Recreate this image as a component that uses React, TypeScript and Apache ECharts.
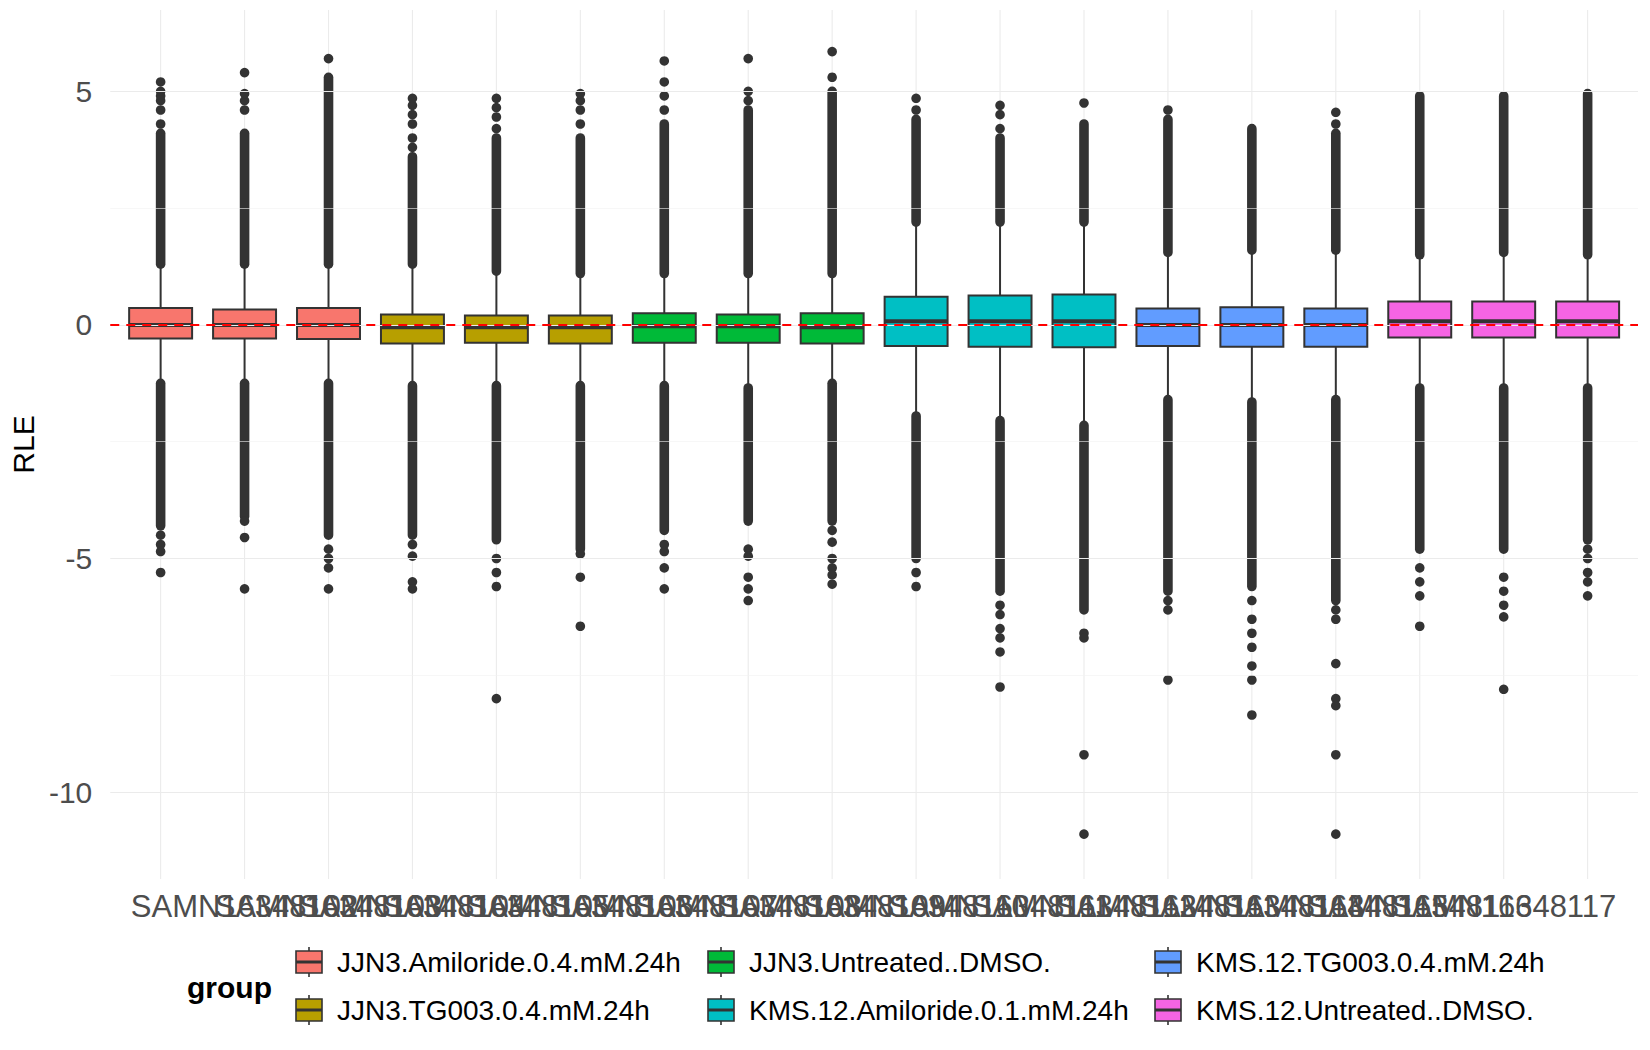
import { useRef, useEffect } from "react"
import * as echarts from "echarts"

const samples = [
  "SAMN16348101", "SAMN16348102", "SAMN16348103", "SAMN16348104", "SAMN16348105", "SAMN16348106",
  "SAMN16348107", "SAMN16348108", "SAMN16348109", "SAMN16348110", "SAMN16348111", "SAMN16348112",
  "SAMN16348113", "SAMN16348114", "SAMN16348115", "SAMN16348116", "SAMN16348117", "SAMN16348118",
]
const groupOf = [0, 0, 0, 1, 1, 1, 2, 2, 2, 3, 3, 3, 4, 4, 4, 5, 5, 5]
const groups = [
  "JJN3.Amiloride.0.4.mM.24h", "JJN3.TG003.0.4.mM.24h", "JJN3.Untreated..DMSO.",
  "KMS.12.Amiloride.0.1.mM.24h", "KMS.12.TG003.0.4.mM.24h", "KMS.12.Untreated..DMSO.",
]
const groupColors = ["#F8766D", "#B79F00", "#00BA38", "#00BFC4", "#619CFF", "#F564E3"]

// [lower whisker, Q1, median, Q3, upper whisker]
const boxStats = [
  [-1.25, -0.29, 0.0, 0.36, 1.3], [-1.25, -0.29, 0.0, 0.33, 1.3], [-1.25, -0.3, 0.0, 0.36, 1.3],
  [-1.3, -0.4, -0.05, 0.22, 1.3], [-1.3, -0.38, -0.05, 0.2, 1.15], [-1.3, -0.4, -0.05, 0.2, 1.1],
  [-1.3, -0.38, -0.03, 0.25, 1.1], [-1.35, -0.38, -0.03, 0.22, 1.1], [-1.25, -0.4, -0.05, 0.25, 1.1],
  [-1.95, -0.45, 0.08, 0.6, 2.2], [-2.05, -0.47, 0.08, 0.63, 2.2], [-2.15, -0.48, 0.08, 0.65, 2.2],
  [-1.6, -0.45, 0.0, 0.35, 1.55], [-1.65, -0.47, 0.0, 0.38, 1.6], [-1.6, -0.47, 0.0, 0.35, 1.6],
  [-1.35, -0.27, 0.08, 0.5, 1.5], [-1.35, -0.27, 0.08, 0.5, 1.55], [-1.35, -0.27, 0.08, 0.5, 1.5],
]
// densely packed outliers, drawn as a continuous run: [from, to]
const denseUpper = [
  [1.3, 4.1], [1.3, 4.1], [1.3, 5.3], [1.3, 3.6], [1.15, 4.0], [1.1, 4.0],
  [1.1, 4.3], [1.1, 4.6], [1.1, 5.0], [2.2, 4.4], [2.2, 4.0], [2.2, 4.3],
  [1.55, 4.4], [1.6, 4.2], [1.6, 4.1], [1.5, 4.9], [1.55, 4.9], [1.5, 4.95],
]
const denseLower = [
  [-1.25, -4.3], [-1.25, -4.1], [-1.25, -4.5], [-1.3, -4.5], [-1.3, -4.6], [-1.3, -4.8],
  [-1.3, -4.4], [-1.35, -4.2], [-1.25, -4.2], [-1.95, -5.0], [-2.05, -5.7], [-2.15, -6.1],
  [-1.6, -5.7], [-1.65, -5.6], [-1.6, -5.9], [-1.35, -4.8], [-1.35, -4.8], [-1.35, -4.6],
]
const sparseOutliers = [
  [4.3, 4.6, 4.8, 4.9, 5.0, 5.2, -4.5, -4.7, -4.85, -5.3],
  [4.6, 4.8, 4.95, 5.4, -4.2, -4.55, -5.65],
  [5.7, -4.8, -5.0, -5.2, -5.65],
  [3.8, 4.0, 4.3, 4.5, 4.7, 4.85, -4.7, -4.95, -5.5, -5.65],
  [4.2, 4.45, 4.65, 4.85, -5.0, -5.3, -5.6, -8.0],
  [4.3, 4.6, 4.8, 4.95, -4.9, -5.4, -6.45],
  [4.6, 4.9, 5.2, 5.65, -4.7, -4.85, -5.2, -5.65],
  [4.8, 5.0, 5.7, -4.8, -4.95, -5.4, -5.65, -5.9],
  [5.3, 5.85, -4.4, -4.65, -5.0, -5.2, -5.35, -5.55],
  [4.6, 4.85, -5.3, -5.6],
  [4.2, 4.5, 4.7, -6.0, -6.2, -6.5, -6.7, -7.0, -7.75],
  [4.75, -6.6, -6.7, -9.2, -10.9],
  [4.6, -5.9, -6.1, -7.6],
  [-5.9, -6.3, -6.6, -6.9, -7.3, -7.6, -8.35],
  [4.3, 4.55, -6.1, -6.3, -7.25, -8.0, -8.15, -9.2, -10.9],
  [-5.2, -5.5, -5.8, -6.45],
  [-5.4, -5.7, -6.0, -6.25, -7.8],
  [-4.8, -5.0, -5.3, -5.5, -5.8],
]
const yTickLabels = [-10, -5, 0, 5]
const majorGrid = [-10, -5, 0, 5]
const minorGrid = [-7.5, -2.5, 2.5]

const INK = "#333333"
const FONT = "Liberation Sans, Arial, sans-serif"

export default function App() {
  const chartRef = useRef<HTMLDivElement>(null)

  useEffect(() => {
    if (!chartRef.current) return
    const chart = echarts.init(chartRef.current, null, { renderer: "svg" })

    const unit = (api: any) => api.size([1, 0])[0] as number

    const boxRender = (params: any, api: any) => {
      const i = api.value(0)
      const s = boxStats[i]
      const x = api.coord([i, 0])[0]
      const hw = unit(api) * 0.375
      const cs = params.coordSys
      const y = (v: number) => api.coord([i, v])[1]
      const color = groupColors[groupOf[i]]
      return {
        type: "group",
        children: [
          {
            type: "line", z2: 0,
            shape: { x1: x, y1: cs.y, x2: x, y2: cs.y + cs.height },
            style: { stroke: "#ebebeb", lineWidth: 1.1 },
          },
          { type: "line", z2: 1, shape: { x1: x, y1: y(s[3]), x2: x, y2: y(s[4]) }, style: { stroke: INK, lineWidth: 2 } },
          { type: "line", z2: 1, shape: { x1: x, y1: y(s[1]), x2: x, y2: y(s[0]) }, style: { stroke: INK, lineWidth: 2 } },
          {
            type: "rect", z2: 2,
            shape: { x: x - hw, y: y(s[3]), width: hw * 2, height: y(s[1]) - y(s[3]) },
            style: { fill: color, stroke: INK, lineWidth: 2 },
          },
          { type: "line", z2: 3, shape: { x1: x - hw, y1: y(s[2]), x2: x + hw, y2: y(s[2]) }, style: { stroke: INK, lineWidth: 4 } },
        ],
      }
    }

    const denseRender = (params: any, api: any) => {
      const i = api.value(0)
      const x = api.coord([i, 0])[0]
      const top = api.coord([i, api.value(2)])[1]
      const bot = api.coord([i, api.value(1)])[1]
      const r = 4.8
      return {
        type: "rect",
        shape: { x: x - r, y: top - r, width: r * 2, height: bot - top + r * 2, r },
        style: { fill: INK },
      }
    }

    const denseData: number[][] = []
    samples.forEach((_, i) => {
      denseData.push([i, denseUpper[i][0], denseUpper[i][1]])
      denseData.push([i, denseLower[i][1], denseLower[i][0]])
    })
    const sparseData: number[][] = []
    sparseOutliers.forEach((arr, i) => arr.forEach((v) => sparseData.push([i, v])))

    const legendChildren: any[] = []
    const colX = [295, 707, 1154]
    const rowY = [962, 1010]
    groups.forEach((g, k) => {
      const cx = colX[Math.floor(k / 2)]
      const cy = rowY[k % 2]
      legendChildren.push(
        { type: "line", shape: { x1: cx + 14, y1: cy - 15, x2: cx + 14, y2: cy + 15 }, style: { stroke: INK, lineWidth: 1.6 } },
        { type: "rect", shape: { x: cx + 1, y: cy - 11, width: 26, height: 22 }, style: { fill: groupColors[k], stroke: INK, lineWidth: 1.6 } },
        { type: "line", shape: { x1: cx + 1, y1: cy, x2: cx + 27, y2: cy }, style: { stroke: INK, lineWidth: 3 } },
        {
          type: "text", x: cx + 42, y: cy,
          style: { text: g, font: `28px ${FONT}`, fill: "#000", verticalAlign: "middle" },
        },
      )
    })
    legendChildren.push({
      type: "text", x: 187, y: 987,
      style: { text: "group", font: `bold 30px ${FONT}`, fill: "#000", verticalAlign: "middle" },
    })

    chart.setOption({
      animation: false,
      grid: { left: 104, right: 12, top: 10, bottom: 171, containLabel: false },
      xAxis: {
        type: "value",
        min: -0.6,
        max: 17.6,
        axisLine: { show: false },
        axisTick: { show: false },
        splitLine: { show: false },
        axisLabel: {
          customValues: samples.map((_, i) => i),
          formatter: (v: number) => samples[Math.round(v)] ?? "",
          fontSize: 31, color: "#4d4d4d", fontFamily: FONT, margin: 12, hideOverlap: false,
        },
      },
      yAxis: {
        type: "value",
        min: -11.86,
        max: 6.74,
        name: "RLE",
        nameLocation: "middle",
        nameGap: 72,
        nameRotate: 90,
        nameTextStyle: { fontSize: 30, color: "#000", fontFamily: FONT },
        axisLine: { show: false },
        axisTick: { show: false },
        splitLine: { show: false },
        axisLabel: { customValues: yTickLabels, fontSize: 30, color: "#4d4d4d", fontFamily: FONT, margin: 18 },
      },
      series: [
        {
          type: "line",
          data: [],
          z: 0,
          silent: true,
          markLine: {
            symbol: "none",
            silent: true,
            label: { show: false },
            data: [
              ...majorGrid.map((v) => ({ yAxis: v, lineStyle: { color: "#ebebeb", width: 1.1, type: "solid" } })),
              ...minorGrid.map((v) => ({ yAxis: v, lineStyle: { color: "#f2f2f2", width: 0.6, type: "solid" } })),
            ],
          },
        },
        {
          type: "custom",
          z: 2,
          renderItem: boxRender,
          data: samples.map((_, i) => [i]),
          encode: { x: 0 },
          silent: true,
        },
        {
          type: "line",
          data: [],
          z: 3,
          markLine: {
            symbol: "none",
            silent: true,
            label: { show: false },
            data: [{ yAxis: 0 }],
            lineStyle: { color: "#ff0000", width: 2.2, type: [9, 7] },
          },
        },
        {
          type: "custom",
          z: 4,
          renderItem: denseRender,
          data: denseData,
          encode: { x: 0, y: [1, 2] },
          silent: true,
        },
        {
          type: "scatter",
          z: 4,
          data: sparseData,
          symbolSize: 9.6,
          itemStyle: { color: INK, opacity: 1 },
          silent: true,
        },
      ],
      graphic: legendChildren,
    })

    return () => chart.dispose()
  }, [])

  return <div ref={chartRef} style={{ width: 1650, height: 1050, margin: -8 }} />
}
